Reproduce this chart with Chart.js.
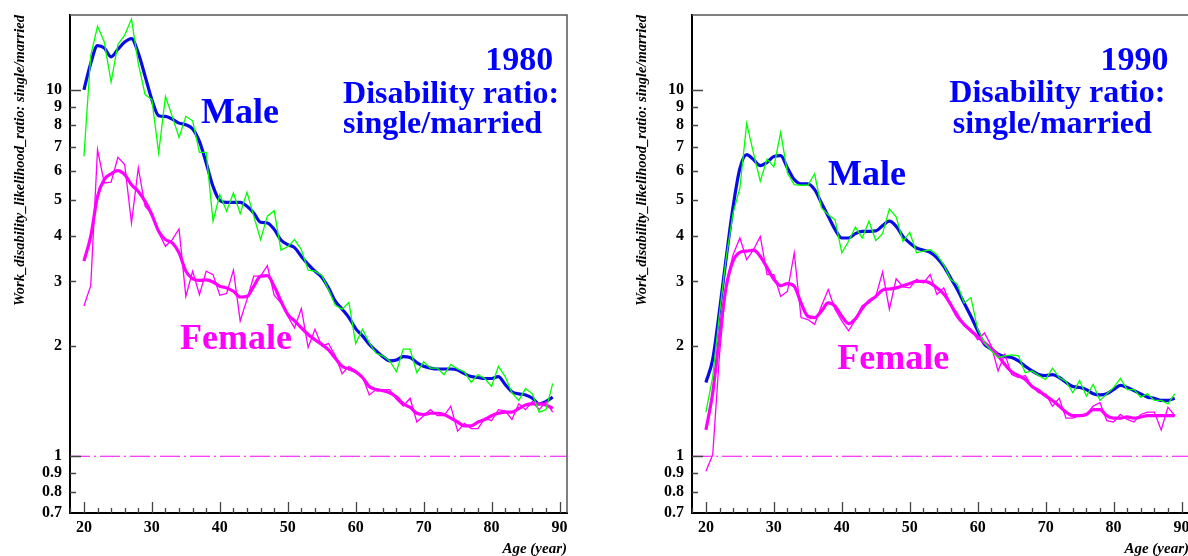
<!DOCTYPE html>
<html>
<head>
<meta charset="utf-8">
<script src="https://cdn.jsdelivr.net/npm/chart.js@4"></script>
<style>
  html, body { margin: 0; padding: 0; background: #fff; overflow: hidden; }
  #wrap { position: relative; width: 1188px; height: 556px; overflow: hidden; }
  canvas { position: absolute; top: 0; }
  #c1980 { left: 0; }
  #c1990 { left: 622px; }
</style>
</head>
<body>
<div id="wrap">
  <canvas id="c1980" width="622" height="556"></canvas>
  <canvas id="c1990" width="622" height="556"></canvas>
</div>
<script>
// ages 20..89
var ages = [];
for (var a = 20; a <= 89; a++) ages.push(a);

var xTickValues = [18, 20, 22, 24, 26, 28, 30, 32, 34, 36, 38, 40, 42, 44, 46, 48, 50,
  52, 54, 56, 58, 60, 62, 64, 66, 68, 70, 72, 74, 76, 78, 80, 82, 84, 86, 88, 90];
var yTickValues = [0.7, 0.8, 0.9, 1, 2, 3, 4, 5, 6, 7, 8, 9, 10];

// 1980
var male1980Raw = [6.58, 12.4, 14.9, 13.5, 10.5, 13.3, 14.1, 15.6, 11.8, 9.7,
  9.4, 6.72, 9.59, 8.46, 7.41, 8.46, 8.23, 6.75, 6.75, 4.38,
  5.18, 4.66, 5.23, 4.59, 5.25, 4.52, 3.90, 4.52, 4.68, 3.65,
  3.73, 3.90, 3.66, 3.22, 3.20, 3.12, 2.85, 2.58, 2.52, 2.63,
  2.03, 2.22, 2.04, 1.91, 1.88, 1.82, 1.70, 1.96, 1.96, 1.69,
  1.81, 1.74, 1.74, 1.67, 1.78, 1.73, 1.70, 1.59, 1.67, 1.63,
  1.55, 1.76, 1.65, 1.49, 1.42, 1.53, 1.48, 1.32, 1.34, 1.58];
var male1980Smooth = [10.0, 11.8, 13.2, 13.0, 12.3, 12.9, 13.5, 13.8, 12.6, 10.9,
  9.4, 8.5, 8.46, 8.32, 8.11, 8.03, 7.82, 7.23, 6.31, 5.45,
  4.99, 4.93, 4.93, 4.93, 4.81, 4.61, 4.35, 4.33, 4.16, 3.89,
  3.78, 3.71, 3.51, 3.34, 3.20, 3.08, 2.88, 2.65, 2.52, 2.39,
  2.23, 2.13, 2.02, 1.94, 1.87, 1.82, 1.83, 1.87, 1.86, 1.80,
  1.76, 1.74, 1.73, 1.73, 1.73, 1.72, 1.68, 1.65, 1.64, 1.63,
  1.63, 1.65, 1.57, 1.50, 1.48, 1.47, 1.44, 1.39, 1.41, 1.45];
var female1980Raw = [2.57, 2.92, 6.86, 5.57, 5.6, 6.54, 6.25, 4.33, 6.12, 4.81,
  4.59, 4.07, 3.74, 3.90, 4.17, 2.73, 3.20, 2.76, 3.20, 3.13,
  2.75, 2.78, 3.22, 2.34, 2.68, 3.10, 3.10, 3.31, 2.75, 2.62,
  2.41, 2.24, 2.53, 1.98, 2.22, 2.00, 2.03, 1.88, 1.68, 1.76,
  1.71, 1.65, 1.47, 1.52, 1.52, 1.52, 1.43, 1.37, 1.44, 1.24,
  1.29, 1.34, 1.29, 1.29, 1.37, 1.17, 1.23, 1.19, 1.19, 1.27,
  1.25, 1.34, 1.33, 1.26, 1.39, 1.34, 1.41, 1.34, 1.41, 1.32];
var female1980Smooth = [3.41, 3.98, 5.12, 5.69, 5.90, 6.02, 5.87, 5.51, 5.28, 4.96,
  4.56, 4.11, 3.90, 3.82, 3.59, 3.20, 3.05, 3.02, 3.03, 2.99,
  2.91, 2.88, 2.82, 2.72, 2.73, 2.91, 3.10, 3.11, 2.91, 2.65,
  2.44, 2.34, 2.24, 2.15, 2.08, 2.02, 1.95, 1.85, 1.76, 1.73,
  1.70, 1.64, 1.55, 1.52, 1.51, 1.49, 1.45, 1.39, 1.36, 1.31,
  1.30, 1.31, 1.31, 1.30, 1.27, 1.24, 1.21, 1.21, 1.24, 1.26,
  1.29, 1.31, 1.32, 1.32, 1.35, 1.38, 1.39, 1.39, 1.38, 1.35];

// 1990
var male1990Raw = [1.32, 1.65, 2.45, 3.5, 4.61, 5.4, 8.1, 6.72, 5.63, 6.47,
  6.16, 7.65, 5.93, 5.51, 5.49, 5.49, 5.90, 4.76, 4.56, 4.42,
  3.59, 3.86, 4.22, 3.94, 4.38, 3.88, 4.05, 4.73, 4.50, 3.86,
  4.08, 3.59, 3.63, 3.66, 3.55, 3.33, 3.04, 2.95, 2.62, 2.71,
  2.22, 2.04, 1.94, 1.86, 1.88, 1.89, 1.88, 1.69, 1.71, 1.66,
  1.62, 1.74, 1.64, 1.60, 1.49, 1.61, 1.46, 1.57, 1.42, 1.48,
  1.54, 1.63, 1.52, 1.52, 1.45, 1.48, 1.42, 1.42, 1.39, 1.48];
var male1990Smooth = [1.59, 1.84, 2.5, 3.5, 4.8, 6.1, 6.65, 6.45, 6.21, 6.34,
  6.58, 6.61, 6.12, 5.69, 5.54, 5.54, 5.34, 4.91, 4.52, 4.16,
  3.94, 3.94, 4.05, 4.11, 4.11, 4.12, 4.26, 4.38, 4.24, 3.98,
  3.82, 3.70, 3.65, 3.60, 3.48, 3.30, 3.07, 2.85, 2.62, 2.41,
  2.20, 2.02, 1.96, 1.90, 1.87, 1.86, 1.82, 1.76, 1.71, 1.67,
  1.66, 1.67, 1.64, 1.59, 1.55, 1.54, 1.52, 1.48, 1.47, 1.48,
  1.52, 1.56, 1.54, 1.51, 1.48, 1.45, 1.44, 1.42, 1.42, 1.44];
var female1990Raw = [0.91, 1.01, 1.9, 2.97, 3.55, 3.94, 3.44, 3.66, 3.98, 3.13,
  3.13, 2.73, 2.82, 3.59, 2.39, 2.36, 2.29, 2.57, 2.85, 2.52,
  2.34, 2.20, 2.36, 2.58, 2.62, 2.73, 3.18, 2.52, 3.05, 2.90,
  2.88, 3.04, 2.97, 3.13, 2.76, 2.88, 2.60, 2.46, 2.27, 2.22,
  2.08, 2.17, 2.00, 1.71, 1.90, 1.67, 1.64, 1.66, 1.55, 1.49,
  1.48, 1.37, 1.44, 1.27, 1.27, 1.29, 1.30, 1.37, 1.40, 1.25,
  1.24, 1.30, 1.26, 1.24, 1.30, 1.32, 1.32, 1.18, 1.36, 1.29];
var female1990Smooth = [1.18, 1.49, 2.13, 2.91, 3.41, 3.60, 3.63, 3.65, 3.51, 3.27,
  3.04, 2.92, 2.96, 2.91, 2.62, 2.41, 2.39, 2.49, 2.62, 2.57,
  2.41, 2.30, 2.37, 2.53, 2.65, 2.73, 2.84, 2.86, 2.88, 2.92,
  2.96, 3.00, 3.00, 2.97, 2.88, 2.77, 2.60, 2.41, 2.29, 2.20,
  2.12, 2.04, 1.97, 1.88, 1.78, 1.70, 1.66, 1.62, 1.55, 1.51,
  1.46, 1.42, 1.37, 1.32, 1.29, 1.29, 1.30, 1.34, 1.34, 1.29,
  1.27, 1.27, 1.28, 1.27, 1.28, 1.29, 1.29, 1.29, 1.29, 1.29];

var SERIF = "'Liberation Serif', 'DejaVu Serif', serif";
var BLUE = "#0000ff";
var LINE_BLUE = "#0a0ae6";
var GREEN = "#00ff00";
var MAGENTA = "#ff00ff";
var X_MIN = 17.95, X_MAX = 91.1;

function pairs(values) {
  return ages.map(function (age, i) {
    return { x: age, y: values[i] };
  });
}

// frame (top/right) and inward tick marks, ROOT style
var frameTicks = {
  id: "frameTicks",
  afterDraw: function (chart) {
    var ctx = chart.ctx;
    var area = chart.chartArea;
    var xs = chart.scales.x;
    var ys = chart.scales.y;
    ctx.save();
    ctx.strokeStyle = "#555";
    ctx.lineWidth = 1.5;
    ctx.beginPath();
    ctx.moveTo(area.left, area.top);
    ctx.lineTo(area.right, area.top);
    ctx.lineTo(area.right, area.bottom);
    ctx.stroke();

    ctx.strokeStyle = "#444";
    ctx.lineWidth = 1.3;
    ctx.beginPath();
    xs.ticks.forEach(function (t) {
      var px = Math.round(xs.getPixelForValue(t.value)) + 0.5;
      var len = t.value % 10 === 0 ? 11 : 5;
      ctx.moveTo(px, area.bottom);
      ctx.lineTo(px, area.bottom - len);
    });
    ys.ticks.forEach(function (t) {
      if (t.value === 0.7) return;
      var py = Math.round(ys.getPixelForValue(t.value)) + 0.5;
      var len = t.value === 1 || t.value === 10 ? 11 : 6;
      ctx.moveTo(area.left, py);
      ctx.lineTo(area.left + len, py);
    });
    ctx.stroke();
    ctx.restore();
  },
};

function textLayer(items) {
  return {
    id: "panelText",
    afterDatasetsDraw: function (chart) {
      var ctx = chart.ctx;
      var xs = chart.scales.x;
      var ys = chart.scales.y;
      ctx.save();
      items.forEach(function (it) {
        ctx.font = "bold " + it.size + "px " + SERIF;
        ctx.fillStyle = it.color;
        ctx.textAlign = it.align;
        ctx.textBaseline = "alphabetic";
        ctx.fillText(it.text, xs.getPixelForValue(it.x), ys.getPixelForValue(it.y));
      });
      ctx.restore();
    },
  };
}

function makePanel(canvasId, maleRaw, maleSmooth, femaleRaw, femaleSmooth, labels) {
  var ctx = document.getElementById(canvasId).getContext("2d");
  return new Chart(ctx, {
    type: "line",
    data: {
      datasets: [
        {
          data: [{ x: X_MIN, y: 1 }, { x: X_MAX, y: 1 }],
          borderColor: MAGENTA,
          borderWidth: 1.2,
          borderDash: [20, 4, 2, 4],
          pointRadius: 0,
        },
        {
          data: pairs(maleRaw),
          borderColor: GREEN,
          borderWidth: 1.3,
          pointRadius: 0,
          tension: 0,
        },
        {
          data: pairs(femaleRaw),
          borderColor: MAGENTA,
          borderWidth: 1.3,
          pointRadius: 0,
          tension: 0,
        },
        {
          data: pairs(femaleSmooth),
          borderColor: MAGENTA,
          borderWidth: 3.2,
          pointRadius: 0,
          cubicInterpolationMode: "monotone",
        },
        {
          data: pairs(maleSmooth),
          borderColor: LINE_BLUE,
          borderWidth: 3.2,
          pointRadius: 0,
          cubicInterpolationMode: "monotone",
        },
      ],
    },
    options: {
      responsive: false,
      animation: false,
      layout: { padding: { left: 0, right: 55, top: 15, bottom: 0 } },
      plugins: {
        legend: { display: false },
        tooltip: { enabled: false },
      },
      scales: {
        x: {
          type: "linear",
          min: X_MIN,
          max: X_MAX,
          afterBuildTicks: function (s) {
            s.ticks = xTickValues.map(function (v) {
              return { value: v };
            });
          },
          afterFit: function (s) {
            s.height = 43;
          },
          grid: { display: false },
          border: { display: true, color: "#000", width: 2 },
          ticks: {
            autoSkip: false,
            maxRotation: 0,
            padding: -3,
            color: "#000",
            font: { family: SERIF, weight: "bold", size: 16 },
            callback: function (v) {
              return v % 10 === 0 ? String(v) : "";
            },
          },
          title: {
            display: true,
            text: "Age (year)",
            align: "end",
            color: "#000",
            font: { family: SERIF, style: "italic", weight: "bold", size: 15 },
            padding: { top: 0, bottom: -2 },
          },
        },
        y: {
          type: "logarithmic",
          min: 0.7,
          max: 16,
          afterBuildTicks: function (s) {
            s.ticks = yTickValues.map(function (v) {
              return { value: v };
            });
          },
          afterFit: function (s) {
            s.width = 70;
          },
          grid: { display: false },
          border: { display: true, color: "#000", width: 2 },
          ticks: {
            autoSkip: false,
            padding: 0,
            color: "#000",
            font: { family: SERIF, weight: "bold", size: 16 },
            callback: function (v) {
              return String(v);
            },
          },
          title: {
            display: true,
            text: "Work_disability_likelihood_ratio: single/married",
            align: "end",
            color: "#000",
            font: { family: SERIF, style: "italic", weight: "bold", size: 14.5 },
            padding: { top: 12, bottom: 0 },
          },
        },
      },
    },
    plugins: [frameTicks, textLayer(labels)],
  });
}

makePanel("c1980", male1980Raw, male1980Smooth, female1980Raw, female1980Smooth, [
  { text: "1980", x: 89.07, y: 11.3, size: 34, color: BLUE, align: "right" },
  { text: "Disability ratio:", x: 58.14, y: 9.2, size: 32, color: BLUE, align: "left" },
  { text: "single/married", x: 58.14, y: 7.64, size: 32, color: BLUE, align: "left" },
  { text: "Male", x: 37.23, y: 8.13, size: 36, color: BLUE, align: "left" },
  { text: "Female", x: 34.14, y: 1.957, size: 36, color: MAGENTA, align: "left" },
]);

makePanel("c1990", male1990Raw, male1990Smooth, female1990Raw, female1990Smooth, [
  { text: "1990", x: 88.08, y: 11.3, size: 34, color: BLUE, align: "right" },
  { text: "Disability ratio:", x: 55.83, y: 9.29, size: 32, color: BLUE, align: "left" },
  { text: "single/married", x: 56.33, y: 7.6, size: 32, color: BLUE, align: "left" },
  { text: "Male", x: 37.97, y: 5.51, size: 36, color: BLUE, align: "left" },
  { text: "Female", x: 39.34, y: 1.726, size: 36, color: MAGENTA, align: "left" },
]);
</script>
</body>
</html>
